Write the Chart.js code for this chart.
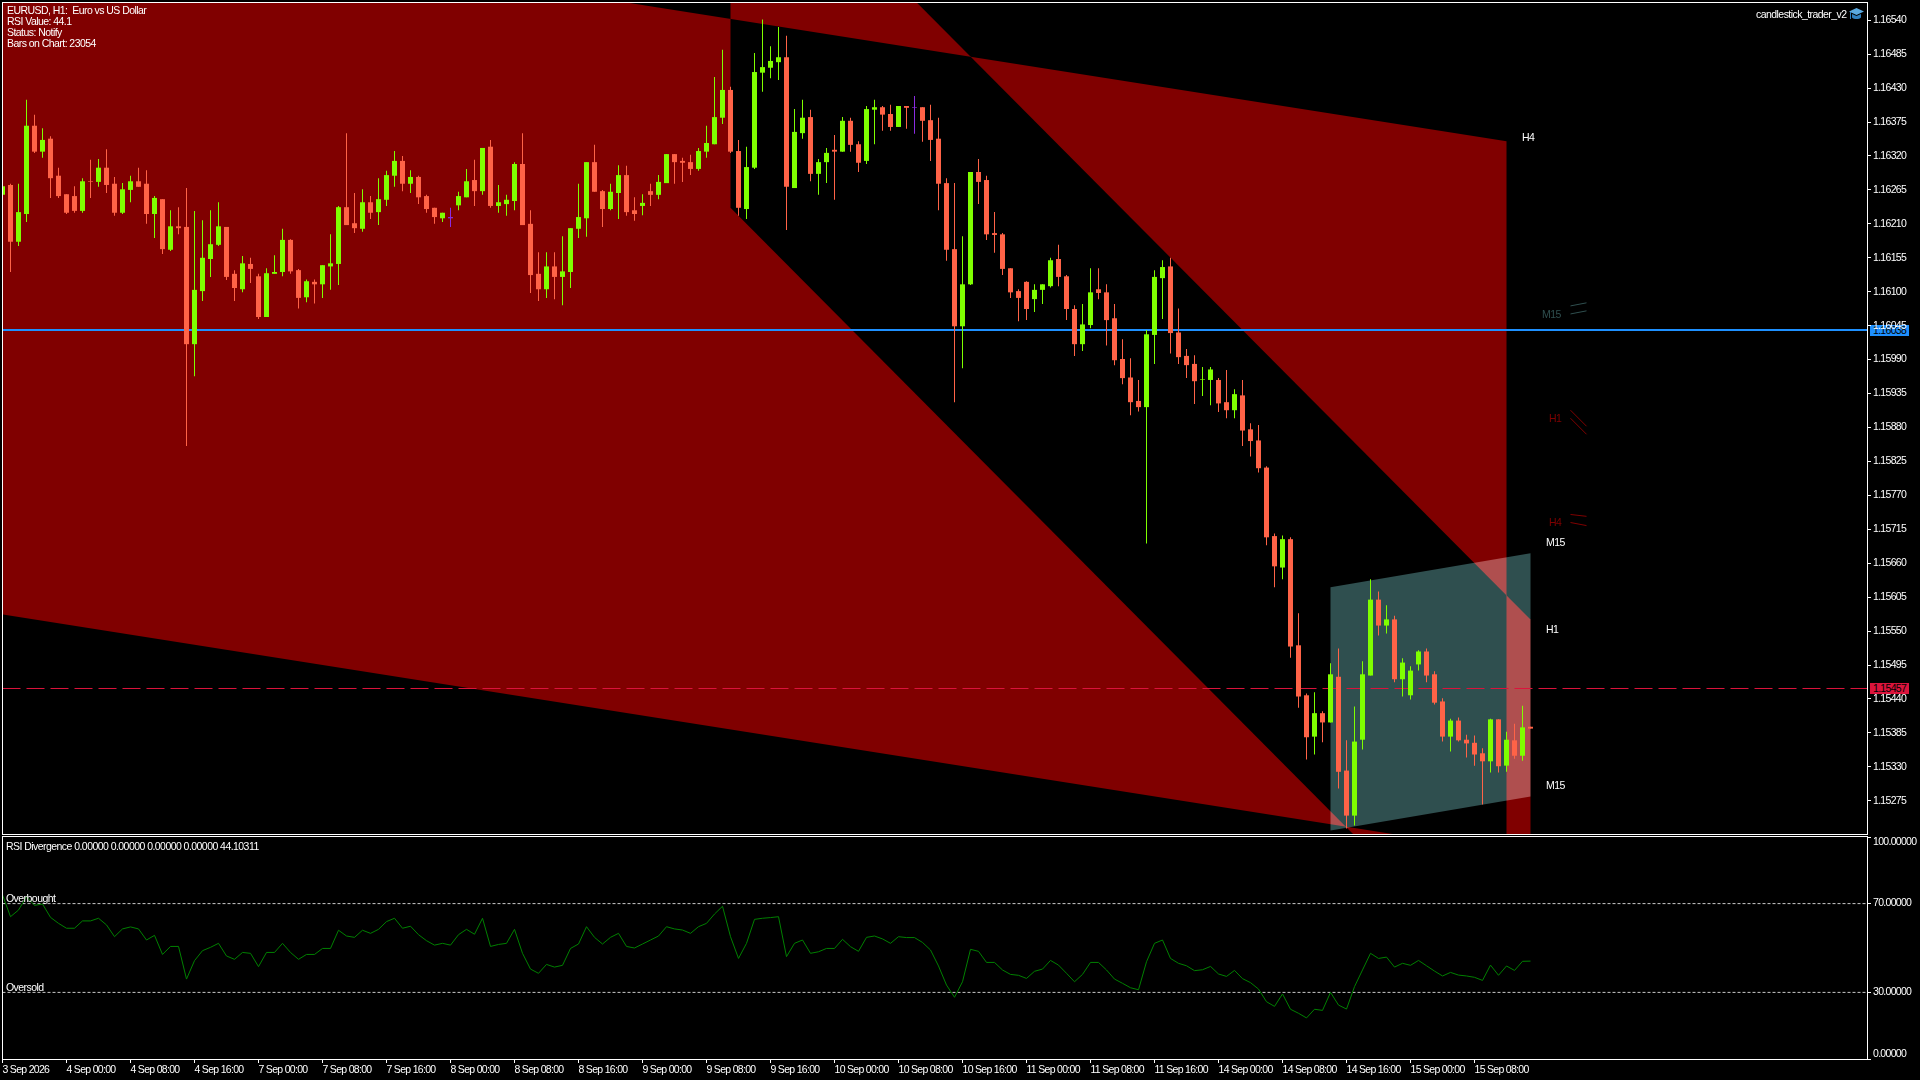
<!DOCTYPE html>
<html>
<head>
<meta charset="utf-8">
<title>EURUSD, H1</title>
<script src="https://cdn.jsdelivr.net/npm/chart.js@4/dist/chart.umd.js"></script>
<style>
  html, body { margin: 0; background: #000; overflow: hidden; }
  body { width: 1920px; height: 1080px; position: relative; font: 10.5px "Liberation Sans", sans-serif; color: #fff; letter-spacing: -0.55px; }
  canvas { position: absolute; left: 0; }
  #priceChart { top: 0; z-index: 2; }
  #rsiChart { top: 830px; z-index: 2; }
  .note { position: absolute; z-index: 3; white-space: pre; line-height: 12px; }
  .axis { letter-spacing: -0.7px; }
  .tag { position: absolute; z-index: 1; left: 1870px; width: 39px; height: 11px; line-height: 11px; padding-left: 3px; box-sizing: border-box; color: #000; letter-spacing: -0.7px; }
</style>
</head>
<body>
<div class="tag" style="top:325px;background:#1e90ff">1.16038</div>
<div class="tag" style="top:683px;background:#dc143c">1.15457</div>
<canvas id="priceChart" width="1920" height="836"></canvas>
<canvas id="rsiChart" width="1920" height="250"></canvas>

<div class="note" style="left:7px;top:4px">EURUSD, H1:  Euro vs US Dollar</div>
<div class="note" style="left:7px;top:15px">RSI Value: 44.1</div>
<div class="note" style="left:7px;top:26px">Status: Notify</div>
<div class="note" style="left:7px;top:37px">Bars on Chart: 23054</div>
<div class="note" style="left:1756px;top:8px">candlestick_trader_v2</div>
<svg style="position:absolute;z-index:3;left:1849px;top:8px" width="15" height="13" viewBox="0 0 15 13">
  <path d="M7.5 0 15 3.5 7.5 7 0 3.5Z" fill="#5aa9e0"/>
  <path d="M3 6v3.5c2 2 7 2 9 0V6L7.5 8Z" fill="#2f7fbf"/>
  <path d="M1 4v7h1V4Z" fill="#2f7fbf"/>
</svg>
<div class="note" style="left:1522px;top:131px">H4</div>
<div class="note" style="left:1546px;top:536px">M15</div>
<div class="note" style="left:1546px;top:623px">H1</div>
<div class="note" style="left:1546px;top:779px">M15</div>
<div class="note" style="left:1542px;top:308px;color:#2f4f4f">M15</div>
<div class="note" style="left:1549px;top:412px;color:#800000">H1</div>
<div class="note" style="left:1549px;top:516px;color:#800000">H4</div>
<div class="note" style="left:6px;top:840px">RSI Divergence 0.00000 0.00000 0.00000 0.00000 44.10311</div>
<div class="note" style="left:6px;top:892px">Overbought</div>
<div class="note" style="left:6px;top:981px">Oversold</div>
<div class="note axis" style="left:1873px;top:835px">100.00000</div>
<div class="note axis" style="left:1873px;top:1047px">0.00000</div>

<script>
// prices are in points (1/100000)
const opens = [
  116257,116273,116181,116226,116369,116327,116348,116288,116258,116255,
  116231,116279,116278,116301,116275,116228,116265,116279,116275,116226,
  116250,116168,116206,116205,116015,116101,116153,116176,116205,116129,
  116104,116145,116125,116059,116129,116132,116184,116135,116091,116116,
  116112,116141,116145,116237,116211,116202,116245,116229,116249,116288,
  116312,116275,116286,116255,116236,116219,116221,116240,116253,116281,
  116263,116335,116239,116242,116247,116307,116210,116129,116104,116141,
  116124,116132,116202,116219,116310,116263,116234,116260,116289,116232,
  116239,116263,116257,116276,116323,116312,116310,116299,116327,116339,
  116382,116427,116328,116234,116301,116455,116463,116472,116480,116268,
  116357,116383,116291,116310,116330,116327,116377,116339,116312,116395,
  116399,116388,116367,116401,116399,116399,116378,116348,116276,116169,
  116044,116112,116294,116281,116195,116193,116138,116101,116116,116088,
  116103,116109,116153,116125,116072,116015,116046,116104,116099,116057,
  115991,115961,115923,115913,116030,116122,116141,116034,115996,115983,
  115957,115957,115957,115921,115908,115932,115877,115859,115815,115704,
  115653,115699,115527,115446,115379,115417,115402,115476,115324,115251,
  115374,115478,115601,115559,115569,115472,115446,115496,115517,115480,
  115436,115379,115405,115374,115369,115352,115339,115407,115332,115373,
  115348,115395
];
const highs = [
  116271,116275,116275,116411,116387,116365,116352,116301,116258,116271,
  116284,116314,116315,116331,116286,116276,116288,116301,116297,116255,
  116250,116232,116237,116268,116231,116216,116232,116245,116205,116135,
  116158,116155,116129,116138,116159,116202,116185,116137,116120,116120,
  116143,116193,116239,116357,116260,116266,116255,116284,116296,116328,
  116320,116297,116288,116257,116236,116228,116236,116262,116299,116314,
  116333,116346,116273,116257,116310,116357,116232,116164,116164,116164,
  116190,116203,116275,116310,116338,116265,116275,116305,116304,116253,
  116258,116275,116289,116323,116323,116317,116322,116333,116369,116448,
  116492,116432,116346,116335,116487,116541,116498,116529,116515,116396,
  116411,116395,116315,116333,116354,116383,116382,116344,116401,116411,
  116401,116403,116401,116401,116417,116399,116403,116382,116284,116276,
  116190,116294,116315,116288,116229,116195,116138,116104,116117,116112,
  116112,116155,116176,116127,116078,116080,116138,116138,116112,116080,
  116023,115992,115957,116038,116135,116151,116155,116073,116007,115997,
  115978,115978,115960,115973,115942,115957,115887,115884,115817,115708,
  115705,115702,115579,115449,115451,115420,115498,115522,115373,115428,
  115501,115634,115614,115592,115575,115506,115493,115519,115522,115485,
  115441,115408,115410,115382,115381,115360,115408,115407,115387,115400,
  115429,115395
];
const lows = [
  116257,116132,116174,116213,116325,116317,116252,116252,116226,116228,
  116228,116252,116270,116260,116223,116226,116245,116270,116210,116187,
  116161,116166,116193,115850,115963,116085,116124,116174,116119,116085,
  116099,116114,116056,116059,116129,116125,116129,116073,116083,116081,
  116090,116103,116111,116208,116195,116197,116218,116208,116239,116270,
  116263,116260,116242,116228,116210,116213,116205,116232,116253,116239,
  116257,116236,116228,116223,116232,116208,116098,116085,116090,116088,
  116078,116106,116187,116189,116262,116205,116232,116218,116223,116215,
  116224,116239,116250,116276,116275,116278,116289,116296,116317,116339,
  116372,116325,116223,116218,116299,116424,116446,116443,116200,116268,
  116348,116279,116257,116276,116249,116327,116327,116294,116307,116339,
  116361,116361,116367,116364,116356,116343,116312,116232,116150,115921,
  115976,116111,116242,116184,116163,116127,116090,116052,116054,116067,
  116080,116107,116109,116054,115996,116004,116041,116088,116013,115981,
  115950,115900,115906,115692,115983,116056,116000,115983,115960,115918,
  115931,115916,115905,115895,115895,115850,115833,115807,115689,115621,
  115634,115507,115426,115342,115350,115370,115402,115295,115230,115235,
  115358,115478,115543,115546,115467,115444,115439,115486,115467,115431,
  115371,115355,115371,115345,115332,115269,115321,115321,115322,115343,
  115340,115392
];
const closes = [
  116271,116181,116229,116369,116327,116346,116284,116255,116228,116231,
  116279,116278,116301,116273,116228,116266,116279,116270,116226,116252,
  116169,116206,116203,116015,116103,116155,116177,116206,116124,116106,
  116146,116137,116059,116130,116132,116184,116133,116090,116117,116112,
  116143,116146,116237,116208,116203,116245,116228,116250,116289,116312,
  116275,116286,116253,116234,116221,116228,116219,116255,116279,116263,
  116333,116239,116245,116249,116307,116208,116127,116104,116141,116124,
  116133,116203,116221,116310,116262,116234,116262,116289,116229,116226,
  116244,116257,116278,116323,116310,116309,116299,116328,116341,116383,
  116427,116327,116236,116302,116456,116464,116474,116480,116270,116359,
  116382,116291,116310,116325,116327,116377,116338,116309,116396,116399,
  116387,116367,116401,116398,116398,116377,116346,116275,116168,116044,
  116112,116294,116278,116193,116192,116137,116099,116090,116072,116103,
  116112,116151,116124,116072,116015,116047,116099,116098,116054,115989,
  115960,115921,115913,116031,116124,116140,116033,115994,115981,115955,
  115958,115974,115919,115908,115934,115875,115858,115814,115702,115655,
  115699,115525,115444,115378,115417,115402,115480,115322,115251,115371,
  115480,115601,115559,115569,115472,115499,115486,115517,115478,115434,
  115379,115405,115373,115368,115350,115339,115407,115331,115374,115348,
  115394,115392
];
const flatBars = [56, 114];
const rsiValues = [
  73.9,64.1,67.1,73.1,69.2,69.8,63.8,61.1,58.9,58.9,
  62.2,62.2,63.4,60.4,55.1,58.6,59.5,58.6,53.6,55.7,
  47.1,50.7,50.7,36.0,44.3,48.8,50.3,52.1,46.4,44.9,
  48.0,47.6,41.6,48.0,48.0,52.1,48.0,44.9,47.1,47.1,
  49.8,49.8,58.0,55.4,54.8,58.0,56.6,58.4,61.9,63.4,
  58.9,59.8,56.0,53.3,51.3,52.1,51.3,56.0,58.4,56.2,
  63.4,50.7,51.6,52.1,58.4,47.6,40.5,38.6,42.6,41.4,
  42.2,49.8,51.8,59.6,54.8,51.8,54.8,56.6,50.7,50.0,
  51.8,53.6,55.4,59.6,58.6,58.1,56.6,59.6,61.1,65.3,
  68.8,55.1,45.3,52.1,62.9,63.4,63.7,64.1,46.1,52.1,
  53.6,47.6,48.3,49.8,49.8,53.9,50.6,48.5,54.8,55.4,
  54.1,52.1,55.1,54.7,54.7,52.5,49.1,41.9,33.3,27.8,
  34.8,49.4,48.5,43.5,43.5,40.1,38.1,37.7,36.3,39.5,
  40.5,44.4,42.3,38.6,34.8,38.1,43.5,43.5,40.1,36.0,
  34.1,32.1,31.2,43.8,52.1,53.6,45.3,43.1,42.0,39.8,
  40.2,41.7,38.3,37.2,39.9,36.2,34.4,31.5,25.8,23.7,
  29.3,22.4,20.6,18.5,22.4,21.9,30.0,24.3,22.5,32.6,
  40.1,47.6,45.3,45.9,41.4,43.1,42.2,44.4,42.0,39.6,
  37.4,39.0,37.8,37.4,36.8,35.4,42.3,37.7,41.9,39.9,
  44.0,44.1
];
const priceTicks = [
  116540,116485,116430,116375,116320,116265,116210,116155,116100,116045,
  115990,115935,115880,115825,115770,115715,115660,115605,115550,115495,
  115440,115385,115330,115275
];
const rsiTicks = [100, 70, 30, 0];
const rsiLevels = [70, 30];
const xTickLabels = [
  "3 Sep 2026","4 Sep 00:00","4 Sep 08:00","4 Sep 16:00","7 Sep 00:00","7 Sep 08:00",
  "7 Sep 16:00","8 Sep 00:00","8 Sep 08:00","8 Sep 16:00","9 Sep 00:00","9 Sep 08:00",
  "9 Sep 16:00","10 Sep 00:00","10 Sep 08:00","10 Sep 16:00","11 Sep 00:00","11 Sep 08:00",
  "11 Sep 16:00","14 Sep 00:00","14 Sep 08:00","14 Sep 16:00","15 Sep 00:00","15 Sep 08:00"
];
const bidPrice = 115457;
const askPrice = 116038;
// channels: [bar, price] corners
const channelH4 = [[0,116728],[188,116344],[188,115192],[0,115577]];
const channelH1 = [[91,116872],[191,115569],[191,114932],[91,116236]];
const channelM15 = [[166,115621],[191,115676],[191,115282],[166,115227]];
// little channel previews next to the labels
const previewM15 = [[[196,116077],[198,116082]],[[196,116064],[198,116069]]];
const previewH1 = [[[196,115908],[198,115882]],[[196,115895],[198,115869]]];
const previewH4 = [[[196,115739],[198,115736]],[[196,115726],[198,115721]]];

const UP = "#7fff00", DOWN = "#ff6347", FLAT = "#8a2be2";
const DARK_RED = "#800000", SLATE = "#2f4f4f";
const xMin = 0.0625, xMax = 233.0625;
const fontSpec = { family: "'Liberation Sans', sans-serif", size: 10.5 };

// filled object drawn through the scales, blended like the terminal does
class ChannelController extends Chart.LineController {
  draw() {
    const ctx = this.chart.ctx;
    const ds = this.getDataset();
    ctx.save();
    ctx.globalCompositeOperation = ds.blend;
    ctx.fillStyle = ds.channelColor;
    ctx.beginPath();
    this.getMeta().data.forEach((p, i) => (i ? ctx.lineTo(p.x, p.y) : ctx.moveTo(p.x, p.y)));
    ctx.closePath();
    ctx.fill();
    ctx.restore();
  }
}
ChannelController.id = "channel";
ChannelController.defaults = Chart.LineController.defaults;
Chart.register(ChannelController);

const frame = {
  id: "frame",
  beforeDraw(chart) {
    chart.ctx.letterSpacing = "-0.7px";
  },
  afterDraw(chart) {
    const { left, top, width, height } = chart.chartArea;
    chart.ctx.strokeStyle = "#fff";
    chart.ctx.lineWidth = 1;
    chart.ctx.strokeRect(left - 0.5, top - 0.5, width + 1, height + 1);
  }
};

function toPoints(pairs) {
  return pairs.map(p => ({ x: p[0], y: p[1] }));
}

function channel(pairs, color, blend, order) {
  return { type: "channel", data: toPoints(pairs), channelColor: color, blend, order, pointRadius: 0 };
}

function hline(price, color, width, dash, order) {
  return {
    type: "line",
    data: [{ x: 0, y: price }, { x: xMax, y: price }],
    borderColor: color,
    borderWidth: width,
    borderDash: dash,
    pointRadius: 0,
    order
  };
}

function preview(pairs, color) {
  return { type: "line", data: toPoints(pairs), borderColor: color, borderWidth: 1, pointRadius: 0, order: 6 };
}

function bodyColor(i) {
  if (flatBars.includes(i)) return FLAT;
  return closes[i] >= opens[i] ? UP : DOWN;
}

function sizeAxis(width, height) {
  return s => {
    if (width) s.width = width;
    if (height) s.height = height;
    s.paddingTop = s.paddingBottom = s.paddingLeft = s.paddingRight = 0;
  };
}

const barColors = opens.map((_, i) => bodyColor(i));

new Chart(document.getElementById("priceChart"), {
  type: "bar",
  data: {
    datasets: [
      channel(channelH4, DARK_RED, "difference", 10),
      channel(channelH1, DARK_RED, "difference", 9),
      channel(channelM15, SLATE, "lighter", 8),
      hline(askPrice, "#1e90ff", 2, [], 7),
      hline(bidPrice, "#dc143c", 1, [18, 6], 7),
      preview(previewM15[0], SLATE),
      preview(previewM15[1], SLATE),
      preview(previewH1[0], DARK_RED),
      preview(previewH1[1], DARK_RED),
      preview(previewH4[0], DARK_RED),
      preview(previewH4[1], DARK_RED),
      {
        label: "wicks",
        data: opens.map((_, i) => ({ x: i, y: [lows[i], highs[i]] })),
        backgroundColor: barColors,
        borderWidth: 0,
        grouped: false,
        maxBarThickness: 1,
        order: 2
      },
      {
        label: "bodies",
        data: opens.map((o, i) => ({ x: i, y: [o, closes[i]] })),
        backgroundColor: barColors,
        borderWidth: 0,
        grouped: false,
        maxBarThickness: 5,
        order: 1
      }
    ]
  },
  options: {
    responsive: false,
    animation: false,
    devicePixelRatio: 1,
    layout: { padding: { left: 3, top: 3, right: 0, bottom: 2 } },
    plugins: { legend: { display: false }, tooltip: { enabled: false } },
    scales: {
      x: { type: "linear", display: false, min: xMin, max: xMax, offset: false, grid: { offset: false } },
      y: {
        type: "linear",
        position: "right",
        min: 115221.2,
        max: 116567.9,
        afterBuildTicks: s => { s.ticks = priceTicks.map(v => ({ value: v })); },
        afterFit: sizeAxis(53),
        grid: { drawOnChartArea: false, color: "#fff", tickLength: 4 },
        border: { color: "#fff" },
        ticks: {
          color: "#fff",
          font: fontSpec,
          padding: 2,
          autoSkip: false,
          callback: v => (v / 100000).toFixed(5)
        }
      }
    }
  },
  plugins: [frame]
});

new Chart(document.getElementById("rsiChart"), {
  type: "line",
  data: {
    datasets: [
      {
        label: "RSI",
        data: rsiValues.map((v, i) => ({ x: i, y: v })),
        borderColor: "#008000",
        borderWidth: 1,
        pointRadius: 0,
        tension: 0,
        order: 1
      },
      ...rsiLevels.map(v => ({
        data: [{ x: 0, y: v }, { x: xMax, y: v }],
        borderColor: "#c8c8c8",
        borderWidth: 1,
        borderDash: [3, 2],
        pointRadius: 0,
        order: 2
      }))
    ]
  },
  options: {
    responsive: false,
    animation: false,
    devicePixelRatio: 1,
    layout: { padding: { left: 3, top: 7, right: 0, bottom: 0 } },
    plugins: { legend: { display: false }, tooltip: { enabled: false } },
    scales: {
      x: {
        type: "linear",
        min: xMin,
        max: xMax,
        afterBuildTicks: s => { s.ticks = xTickLabels.map((_, i) => ({ value: i * 8 })); },
        afterFit: sizeAxis(0, 21),
        grid: { drawOnChartArea: false, color: "#fff", tickLength: 4 },
        border: { color: "#fff" },
        ticks: {
          color: "#fff",
          font: fontSpec,
          align: "start",
          padding: 1,
          autoSkip: false,
          maxRotation: 0,
          callback: (v, i) => xTickLabels[i]
        }
      },
      y: {
        type: "linear",
        position: "right",
        min: 0,
        max: 100,
        afterBuildTicks: s => { s.ticks = rsiTicks.map(v => ({ value: v })); },
        afterFit: sizeAxis(53),
        grid: { drawOnChartArea: false, color: "#fff", tickLength: 4 },
        border: { color: "#fff" },
        ticks: {
          color: "#fff",
          font: fontSpec,
          padding: 2,
          autoSkip: false,
          // 100 and 0 sit inside the pane, see the notes above
          callback: v => (v === 100 || v === 0 ? "" : v.toFixed(5))
        }
      }
    }
  },
  plugins: [frame]
});
</script>
</body>
</html>
